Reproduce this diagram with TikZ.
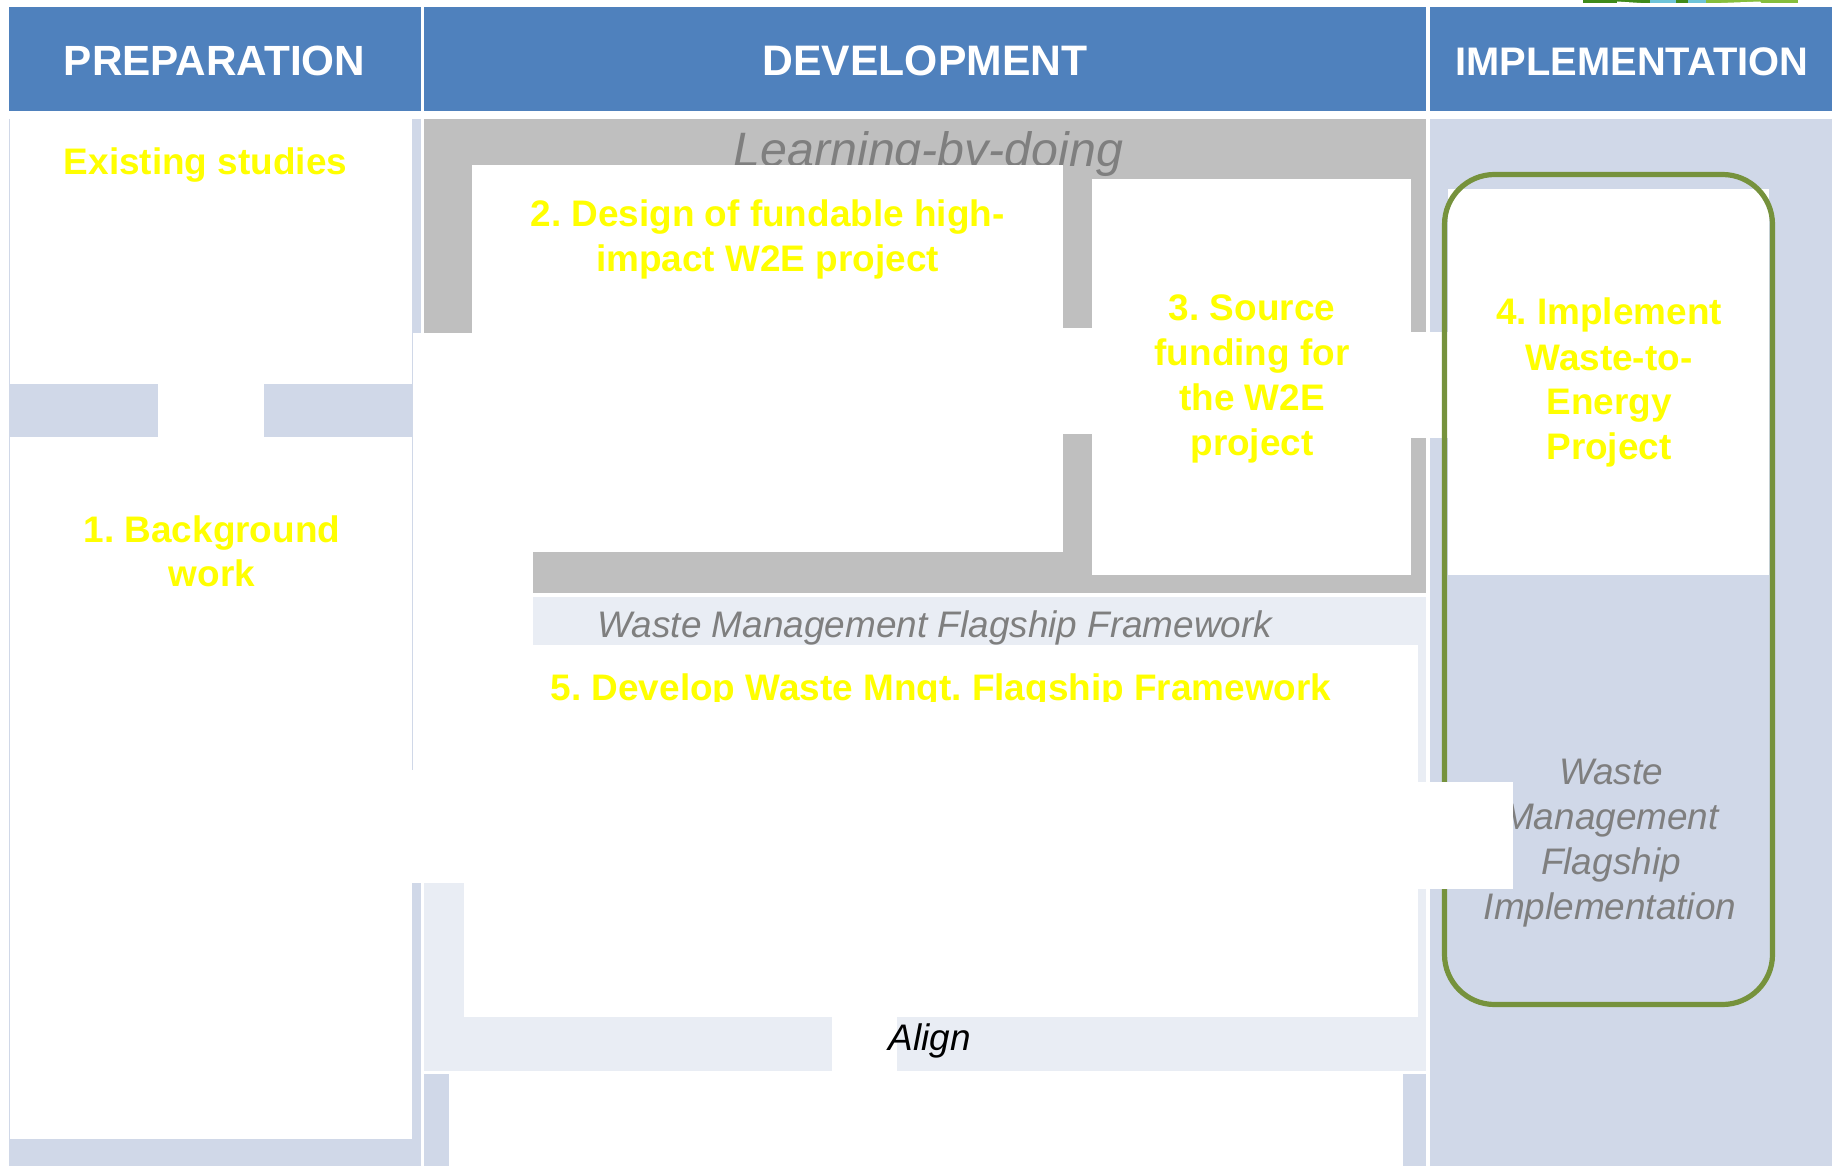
\documentclass[tikz,border=0pt]{standalone}
\usepackage{fontspec}
\setmainfont{Liberation Sans}
\frenchspacing
\definecolor{hdr}{HTML}{4F81BD}
\definecolor{pale}{HTML}{D0D8E8}
\definecolor{paler}{HTML}{E9EDF4}
\definecolor{band}{HTML}{BFBFBF}
\definecolor{greytext}{HTML}{7F7F7F}
\definecolor{frameg}{HTML}{76923C}
\definecolor{yell}{HTML}{FFFF00}
\definecolor{logodark}{HTML}{3F8A1A}
\definecolor{logolight}{HTML}{86BE3C}
\definecolor{logocyan}{HTML}{6FC4D8}
\newcommand{\fs}[1]{\fontsize{#1}{#1}\selectfont}
\tikzset{
  x=0.75pt,y=-0.75pt,
  headtext/.style={anchor=base,text=white,font=\bfseries\fs{31.7pt},inner sep=0pt},
  steptext/.style={anchor=base,text=yell,font=\bfseries\fs{27.7pt},inner sep=0pt,align=center},
  graytext/.style={anchor=base,text=greytext,font=\itshape\fs{27.7pt},inner sep=0pt,align=center},
}
\newcommand{\bx}[5]{\fill[#1] (#2,#3) rectangle (#4,#5);}
\begin{document}
\begin{tikzpicture}
\useasboundingbox (0,0) rectangle (1832,1166);
\fill[white] (0,0) rectangle (1832,1166);
% logo fragment
\bx{logodark}{1583}{0}{1700}{3.5}
\bx{logolight}{1700}{0}{1798}{3.5}
\bx{logocyan}{1650}{0}{1676}{3}
\bx{logodark}{1676}{0}{1688}{3.5}
\bx{logocyan}{1688}{0}{1706}{3}
\fill[white] (1617,1.5) -- (1650,3.6) -- (1617,3.6) -- cycle;
\fill[white] (1706,3.6) -- (1760,1.5) -- (1762,3.6) -- cycle;
% headers
\bx{hdr}{9}{7}{421}{111}
\bx{hdr}{424}{7}{1426}{111}
\bx{hdr}{1430}{7}{1832}{111}
\node[headtext] (hprep) at (214.5,76) {PREPARATION};
\node[headtext,font=\bfseries\fs{32pt}] (hdev) at (925,76) {DEVELOPMENT};
\node[headtext,font=\bfseries\fs{29.9pt}] (himp) at (1632,76) {IMPLEMENTATION};
% preparation column
\bx{pale}{412}{119}{421}{333.5}
\bx{pale}{412}{883}{421}{1166}
\bx{pale}{9}{1139}{421}{1166}
\bx{pale}{9}{384}{158}{437}
\bx{pale}{264}{384}{412}{437}
\draw[pale,line width=0.75pt] (9.4,119) -- (9.4,1139);
\draw[pale,line width=0.75pt] (412.4,333) -- (412.4,770);
% development: learning by doing
\bx{band}{424}{119}{1426}{333.5}
\bx{band}{1063}{333}{1426}{593}
\bx{band}{533}{552}{1426}{593}
\node[graytext,font=\itshape\fs{36.2pt}] (lbd) at (928.5,167) {Learning-by-doing};
\bx{white}{472}{165}{1063}{552}
\bx{white}{1092}{179}{1411}{575}
\bx{white}{1063}{328}{1092}{434}
% white gap under gray, left
\bx{white}{412.8}{333.5}{533}{883}
% framework band
\bx{paler}{533}{597}{1426}{645}
\node[graytext] (wmf) at (935,637) {Waste Management Flagship Framework};
\bx{paler}{1418}{645}{1426}{1017}
\bx{paler}{424}{883}{464}{1017}
\bx{paler}{424}{1017}{832}{1071}
\bx{paler}{897}{1017}{1426}{1071}
\bx{pale}{424}{1074}{449}{1166}
\bx{pale}{1403}{1074}{1426}{1166}
% implementation
\bx{pale}{1430}{119}{1832}{1166}
\bx{white}{1448}{189}{1769}{575}
\bx{white}{1411}{332}{1448}{438}
\draw[frameg,line width=3.9pt,rounded corners=37.5pt] (1444.5,174.5) rectangle (1772.5,1004.5);
% steps
\node[steptext] (exist) at (205.5,175) {Existing studies};
\node[steptext] (st1a) at (212,542) {1. Background};
\node[steptext] (st1b) at (212,586) {work};
\node[steptext] (st2a) at (767.5,227) {2. Design of fundable high-};
\node[steptext] (st2b) at (767.5,271.5) {impact W2E project};
\node[steptext] (st3a) at (1252,321) {3. Source};
\node[steptext] (st3b) at (1252,365) {funding for};
\node[steptext] (st3c) at (1252,410) {the W2E};
\node[steptext] (st3d) at (1252,455) {project};
\node[steptext] (st4a) at (1609,325) {4. Implement};
\node[steptext] (st4b) at (1609,370) {Waste-to-};
\node[steptext] (st4c) at (1609,414) {Energy};
\node[steptext] (st4d) at (1609,459) {Project};
\node[steptext] (st5) at (941,700) {5. Develop Waste Mngt. Flagship Framework};
\bx{white}{533}{702}{1418}{1017}
\node[graytext] (fl1) at (1611,784) {Waste};
\node[graytext] (fl2) at (1611,829) {Management};
\node[graytext] (fl3) at (1611,874) {Flagship};
\node[graytext] (fl4) at (1610,919) {Implementation};
\bx{white}{464}{782}{1513}{889}
\bx{white}{464}{883}{1418}{1017}
\node[graytext,text=black] (al) at (930,1050.5) {Align};
\end{tikzpicture}
\end{document}
